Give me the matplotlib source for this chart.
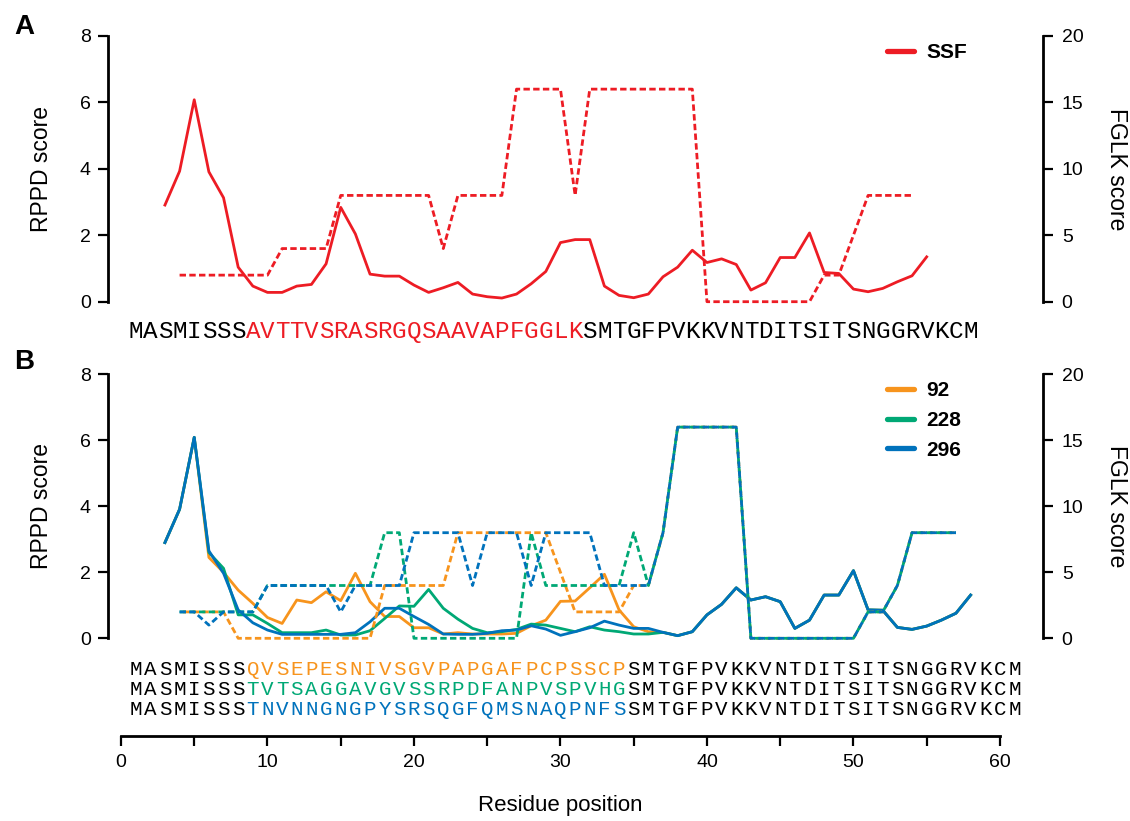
import matplotlib
matplotlib.use("Agg")
import matplotlib.pyplot as plt
import matplotlib.transforms as mtransforms
from matplotlib.lines import Line2D
import numpy as np

# ---------------------------------------------------------------- data
# Panel A: SSF variant
ssf_pos = np.arange(3, 56)
ssf_rppd = [2.91, 3.93, 6.08, 3.91, 3.13, 1.04, 0.47, 0.28, 0.28, 0.47,
            0.52, 1.14, 2.84, 2.04, 0.83, 0.77, 0.77, 0.50, 0.28, 0.42,
            0.58, 0.23, 0.15, 0.11, 0.23, 0.54, 0.91, 1.78, 1.87, 1.87,
            0.47, 0.19, 0.12, 0.23, 0.75, 1.04, 1.55, 1.18, 1.29, 1.12,
            0.35, 0.57, 1.33, 1.33, 2.07, 0.88, 0.85, 0.38, 0.30, 0.40,
            0.60, 0.78, 1.35]
ssf_fglk_pos = np.arange(4, 55)
ssf_fglk = [2, 2, 2, 2, 2, 2, 2, 4, 4, 4, 4, 8, 8, 8, 8, 8, 8, 8, 4, 8,
            8, 8, 8, 16, 16, 16, 16, 8, 16, 16, 16, 16, 16, 16, 16, 16,
            0, 0, 0, 0, 0, 0, 0, 0, 2, 2, 5, 8, 8, 8, 8]

# Panel B: variants 92, 228, 296
var_pos = np.arange(3, 59)
rppd_92 = [2.90, 3.91, 6.09, 2.45, 2.00, 1.46, 1.06, 0.63, 0.45, 1.16,
           1.08, 1.41, 1.14, 1.97, 1.11, 0.66, 0.66, 0.32, 0.32, 0.13,
           0.17, 0.13, 0.13, 0.13, 0.15, 0.38, 0.55, 1.12, 1.13, 1.53,
           1.94, 0.86, 0.35, 0.20, 0.18, 0.08, 0.20, 0.71, 1.03, 1.53,
           1.16, 1.26, 1.11, 0.30, 0.55, 1.31, 1.31, 2.05, 0.86, 0.85,
           0.33, 0.27, 0.37, 0.55, 0.76, 1.31]
rppd_228 = [2.90, 3.91, 6.09, 2.60, 2.12, 0.71, 0.71, 0.45, 0.17, 0.17,
            0.17, 0.25, 0.10, 0.10, 0.23, 0.60, 0.98, 0.97, 1.48, 0.91,
            0.58, 0.30, 0.17, 0.20, 0.27, 0.43, 0.40, 0.30, 0.20, 0.35,
            0.25, 0.20, 0.13, 0.13, 0.18, 0.08, 0.20, 0.71, 1.03, 1.53,
            1.16, 1.26, 1.11, 0.30, 0.55, 1.31, 1.31, 2.05, 0.86, 0.85,
            0.33, 0.27, 0.37, 0.55, 0.76, 1.31]
rppd_296 = [2.90, 3.91, 6.09, 2.65, 1.97, 0.86, 0.47, 0.25, 0.12, 0.12,
            0.12, 0.12, 0.12, 0.17, 0.50, 0.91, 0.91, 0.66, 0.42, 0.13,
            0.12, 0.12, 0.15, 0.23, 0.25, 0.38, 0.28, 0.09, 0.20, 0.32,
            0.52, 0.40, 0.30, 0.30, 0.18, 0.08, 0.20, 0.71, 1.03, 1.53,
            1.16, 1.26, 1.11, 0.30, 0.55, 1.31, 1.31, 2.05, 0.86, 0.85,
            0.33, 0.27, 0.37, 0.55, 0.76, 1.31]
var_fglk_pos = np.arange(4, 58)
fglk_92 = [2, 2, 2, 2, 0, 0, 0, 0, 0, 0, 0, 0, 0, 0, 4, 4, 4, 4, 4, 8,
           8, 8, 8, 8, 8, 8, 5, 2, 2, 2, 2, 4, 4, 8, 16, 16, 16, 16, 16,
           0, 0, 0, 0, 0, 0, 0, 0, 2, 2, 4, 8, 8, 8, 8]
fglk_228 = [2, 2, 2, 2, 2, 2, 4, 4, 4, 4, 4, 4, 4, 4, 8, 8, 0, 0, 0, 0,
            0, 0, 0, 0, 8, 4, 4, 4, 4, 4, 4, 8, 4, 8, 16, 16, 16, 16, 16,
            0, 0, 0, 0, 0, 0, 0, 0, 2, 2, 4, 8, 8, 8, 8]
fglk_296 = [2, 2, 1, 2, 2, 2, 4, 4, 4, 4, 4, 2, 4, 4, 4, 4, 8, 8, 8, 8,
            4, 8, 8, 8, 4, 8, 8, 8, 8, 4, 4, 4, 4, 8, 16, 16, 16, 16, 16,
            0, 0, 0, 0, 0, 0, 0, 0, 2, 2, 4, 8, 8, 8, 8]

# Sequences
seq_prefix = "MASMISSS"
seq_suffix = "SMTGFPVKKVNTDITSITSNGGRVKCM"
insert_ssf = "AVTTVSRASRGQSAAVAPFGGLK"
insert_92 = "QVSEPESNIVSGVPAPGAFPCPSSCP"
insert_228 = "TVTSAGGAVGVSSRPDFANPVSPVHG"
insert_296 = "TNVNNGNGPYSRSQGFQMSNAQPNFS"

x_ticks_major = [0, 10, 20, 30, 40, 50, 60]
x_ticks_minor = [5, 15, 25, 35, 45, 55]
rppd_ticks = [0, 2, 4, 6, 8]
fglk_ticks = [0, 5, 10, 15, 20]

RED = "#ED1C24"
ORANGE = "#F7941D"
GREEN = "#00A875"
BLUE = "#0072BC"

# ---------------------------------------------------------------- style
plt.rcParams["font.family"] = ["Liberation Sans", "DejaVu Sans"]
W, H = 1130, 821
fig = plt.figure(figsize=(W / 100, H / 100), dpi=100)


def px_axes(x0, y0, x1, y1):
    return fig.add_axes([x0 / W, 1 - y1 / H, (x1 - x0) / W, (y1 - y0) / H])


XLIM = (-0.887, 62.94)
LW = 2.0
DASH = (2.3, 1.2)
TICK_FS = 14
SPINE_LW = 2.0
MONO = ["Liberation Mono", "DejaVu Sans Mono"]


def setup_panel(ax):
    ax.set_xlim(*XLIM)
    ax.set_ylim(0, 8)
    ax.patch.set_visible(False)
    for s in ("top", "right", "bottom"):
        ax.spines[s].set_visible(False)
    ax.spines["left"].set_linewidth(SPINE_LW)
    ax.set_yticks(rppd_ticks)
    ax.tick_params(axis="y", direction="out", length=7.5, width=1.6,
                   labelsize=TICK_FS, pad=5)
    ax.tick_params(axis="x", bottom=False, labelbottom=False)
    tw = ax.twinx()
    tw.set_ylim(0, 20)
    for s in ("top", "left", "bottom"):
        tw.spines[s].set_visible(False)
    tw.spines["right"].set_linewidth(SPINE_LW)
    tw.set_yticks(fglk_ticks)
    tw.tick_params(axis="y", direction="out", length=7.5, width=1.6,
                   labelsize=TICK_FS, pad=6)
    return tw


def draw_sequence(ax, y_px, parts, size):
    # one residue letter per x position, aligned with the data axis
    trans = mtransforms.blended_transform_factory(ax.transData, fig.transFigure)
    i = 1
    for text, color in parts:
        for ch in text:
            ax.text(i, 1 - y_px / H, ch, transform=trans, ha="center",
                    va="baseline", color=color, fontsize=size,
                    family=MONO, clip_on=False)
            i += 1


# ---------------------------------------------------------------- panel A
axA = px_axes(108, 36, 1043, 301.7)
twA = setup_panel(axA)
axA.plot(ssf_pos, ssf_rppd, color=RED, lw=LW, clip_on=False)
twA.plot(ssf_fglk_pos, ssf_fglk, color=RED, lw=LW, linestyle=(0, DASH),
         clip_on=False)
draw_sequence(axA, 338, [(seq_prefix, "black"), (insert_ssf, RED),
                         (seq_suffix, "black")], 17.5)

axA.legend(handles=[Line2D([], [], color=RED, lw=3.8,
                           solid_capstyle="round")],
           labels=["SSF"], loc="upper left",
           bbox_to_anchor=(887 / W, 1 - 43 / H),
           bbox_transform=fig.transFigure, frameon=False,
           prop=dict(weight="bold", size=15), handlelength=1.3,
           handletextpad=0.6, borderpad=0, borderaxespad=0)

# ---------------------------------------------------------------- panel B
axB = px_axes(108, 374.3, 1043, 638.3)
twB = setup_panel(axB)
for vals, col in ((rppd_92, ORANGE), (rppd_228, GREEN), (rppd_296, BLUE)):
    axB.plot(var_pos, vals, color=col, lw=LW, clip_on=False)
for vals, col, off in ((fglk_92, ORANGE, 2.3), (fglk_228, GREEN, 0),
                       (fglk_296, BLUE, 0)):
    twB.plot(var_fglk_pos, vals, color=col, lw=LW, linestyle=(off, DASH),
             clip_on=False)

draw_sequence(axB, 675, [(seq_prefix, "black"), (insert_92, ORANGE),
                         (seq_suffix, "black")], 15)
draw_sequence(axB, 695, [(seq_prefix, "black"), (insert_228, GREEN),
                         (seq_suffix, "black")], 15)
draw_sequence(axB, 715, [(seq_prefix, "black"), (insert_296, BLUE),
                         (seq_suffix, "black")], 15)

axB.legend(handles=[Line2D([], [], color=c, lw=3.8, solid_capstyle="round")
                    for c in (ORANGE, GREEN, BLUE)],
           labels=["92", "228", "296"], loc="upper left",
           bbox_to_anchor=(887 / W, 1 - 381 / H),
           bbox_transform=fig.transFigure, frameon=False,
           prop=dict(weight="bold", size=15), handlelength=1.3,
           handletextpad=0.6, borderpad=0, borderaxespad=0,
           labelspacing=0.52)

# shared residue-position axis below the sequences
sp = axB.spines["bottom"]
sp.set_visible(True)
sp.set_position(("outward", 70))
sp.set_bounds(0, 60)
sp.set_linewidth(SPINE_LW)
axB.set_xticks(x_ticks_major)
axB.set_xticks(x_ticks_minor, minor=True)
axB.tick_params(axis="x", which="both", bottom=True, labelbottom=True,
                direction="out", length=7.5, width=1.6, labelsize=TICK_FS,
                pad=6)
axB.tick_params(axis="x", which="minor", labelbottom=False)

# ---------------------------------------------------------------- labels
for yc in ((36 + 301.7) / 2, (374.3 + 638.3) / 2):
    fig.text(41 / W, 1 - yc / H, "RPPD score", rotation=90, ha="center",
             va="center", fontsize=16.5)
    fig.text(1117 / W, 1 - yc / H, "FGLK score", rotation=270, ha="center",
             va="center", fontsize=16.5)
fig.text(24 / W, 1 - 27 / H, "A", fontsize=20, weight="bold",
         ha="center", va="center")
fig.text(24 / W, 1 - 362 / H, "B", fontsize=20, weight="bold",
         ha="center", va="center")
fig.text(560 / W, 1 - 805 / H, "Residue position", fontsize=16,
         ha="center", va="center")

fig.savefig("out.png", dpi=100)
